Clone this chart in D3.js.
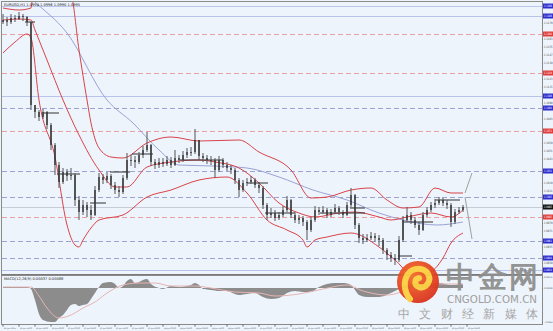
<!DOCTYPE html>
<html>
<head>
<meta charset="utf-8">
<script src="https://cdn.jsdelivr.net/npm/d3@7"></script>
<style>
  body { margin: 0; background: #eef4fb; }
  svg text { font-family: "DejaVu Sans", sans-serif; }
</style>
</head>
<body>
<div id="chart"></div>
<script>
// ---- data ----
const symbolTitle = "EURUSD,H1  1.0994 1.0996 1.0990 1.0995";
const macdTitle = "MACD(12,26,9) 0.00037 0.00088";

const firstOpen = 1.1180;
const closes = [
  1.1182,1.1180,1.1184,1.1183,1.1186,1.1185,1.1180,1.1097,1.1090,1.1085,
  1.1090,1.1077,1.1057,1.1037,1.1020,1.1030,1.1026,1.1027,1.1002,1.0990,
  1.0997,1.0992,1.0987,1.1012,1.1025,1.1022,1.1026,1.1017,1.1012,1.1010,
  1.1024,1.1042,1.1042,1.1040,1.1047,1.1052,1.1057,1.1040,1.1037,1.1040,
  1.1038,1.1042,1.1037,1.1044,1.1042,1.1047,1.1050,1.1050,1.1062,1.1046,
  1.1044,1.1042,1.1042,1.1032,1.1042,1.1037,1.1034,1.1032,1.1022,1.1012,
  1.1019,1.1020,1.1022,1.1017,1.1014,1.0997,1.0987,1.0989,1.0984,1.0987,
  1.0992,1.1002,1.0987,1.0982,1.0984,1.0980,1.0972,1.0982,1.0992,1.0990,
  1.0992,1.0987,1.0990,1.0994,1.0990,1.0987,1.0997,1.1007,1.0977,1.0964,
  1.0962,1.0964,1.0966,1.0964,1.0962,1.0952,1.0947,1.0944,1.0942,1.0962,
  1.0982,1.0987,1.0982,1.0977,1.0972,1.0987,1.0992,1.0997,1.0999,1.1002,
  1.0999,1.0997,1.0980,1.0990,1.0992,1.0995
];
const highs = [
  1.1188,1.1185,1.1188,1.1187,1.1190,1.1188,1.1186,1.1178,1.1096,1.1092,
  1.1093,1.1091,1.1079,1.1059,1.1040,1.1034,1.1033,1.1034,1.1029,1.1006,
  1.1002,1.1000,1.0997,1.1016,1.1029,1.1028,1.1030,1.1028,1.1020,1.1016,
  1.1027,1.1049,1.1047,1.1046,1.1050,1.1056,1.1070,1.1058,1.1043,1.1044,
  1.1044,1.1046,1.1045,1.1052,1.1047,1.1051,1.1054,1.1055,1.1073,1.1062,
  1.1049,1.1047,1.1046,1.1044,1.1046,1.1044,1.1040,1.1037,1.1034,1.1024,
  1.1022,1.1024,1.1026,1.1024,1.1020,1.1016,1.0999,1.0994,1.0992,1.0990,
  1.0996,1.1006,1.1003,1.0990,1.0987,1.0986,1.0982,1.0985,1.0996,1.0995,
  1.0996,1.0994,1.0993,1.0998,1.0996,1.0992,1.1000,1.1014,1.1008,1.0979,
  1.0968,1.0968,1.0970,1.0969,1.0967,1.0964,1.0954,1.0950,1.0948,1.0966,
  1.0986,1.0995,1.0990,1.0985,1.0980,1.0990,1.0995,1.1000,1.1003,1.1005,
  1.1004,1.1002,1.0999,1.0993,1.0995,1.0997
];
const lows = [
  1.1178,1.1176,1.1178,1.1180,1.1182,1.1181,1.1176,1.1092,1.1084,1.1081,
  1.1083,1.1073,1.1052,1.1027,1.1014,1.1018,1.1021,1.1022,1.0996,1.0982,
  1.0987,1.0985,1.0982,1.0986,1.1010,1.1018,1.1019,1.1013,1.1008,1.1005,
  1.1008,1.1022,1.1036,1.1034,1.1038,1.1044,1.1050,1.1036,1.1033,1.1034,
  1.1035,1.1036,1.1034,1.1036,1.1039,1.1040,1.1044,1.1046,1.1048,1.1042,
  1.1040,1.1038,1.1037,1.1024,1.1030,1.1034,1.1031,1.1028,1.1018,1.1005,
  1.1010,1.1016,1.1018,1.1014,1.1009,1.0993,1.0982,1.0984,1.0981,1.0982,
  1.0985,1.0990,1.0984,1.0979,1.0978,1.0976,1.0962,1.0970,1.0980,1.0987,
  1.0988,1.0984,1.0985,1.0988,1.0987,1.0984,1.0986,1.0995,1.0973,1.0959,
  1.0958,1.0960,1.0962,1.0960,1.0956,1.0948,1.0942,1.0940,1.0937,1.0940,
  1.0960,1.0980,1.0978,1.0974,1.0967,1.0971,1.0985,1.0990,1.0994,1.0997,
  1.0996,1.0993,1.0975,1.0978,1.0988,1.0990
];

// bollinger bands and slow average, [bar index, price]
const upperBand = [[0,1.1194],[4,1.1192],[7,1.1194],[8,1.1232],[17,1.1207],[19,1.1152],[21,1.1102],[22,1.1079],[24,1.1054],[27,1.1045],[30,1.1044],[36,1.1059],[42,1.1065],[49,1.1061],[59,1.1062],[64,1.1050],[72,1.1032],[77,1.1004],[81,1.1005],[87,1.1012],[92,1.1014],[96,1.1002],[100,1.0994],[104,1.0995],[108,1.1014],[112,1.1009],[115,1.1009]];
const middleBand = [[0,1.1182],[4,1.1183],[7,1.1182],[8,1.1172],[11,1.1142],[15,1.1102],[19,1.1067],[24,1.1032],[28,1.1015],[31,1.1015],[36,1.1035],[42,1.1040],[49,1.1042],[53,1.1040],[59,1.1034],[64,1.1019],[69,1.0999],[74,1.0989],[78,1.0985],[84,1.0989],[88,1.0990],[94,1.0985],[97,1.0982],[101,1.0985],[107,1.0989],[112,1.0985],[115,1.0992]];
const lowerBand = [[0,1.1149],[3,1.1160],[6,1.1168],[7,1.1164],[9,1.1102],[13,1.1045],[16,1.0977],[18,1.0957],[19,1.0955],[20,1.0962],[22,1.0974],[24,1.0982],[30,1.0987],[36,1.1005],[42,1.1012],[49,1.1022],[56,1.1025],[61,1.1009],[66,1.0982],[71,1.0972],[75,1.0962],[76,1.0955],[78,1.0962],[81,1.0965],[87,1.0969],[94,1.0955],[98,1.0942],[102,1.0929],[106,1.0929],[110,1.0944],[112,1.0959],[115,1.0969]];
const slowAverage = [[0,1.1232],[7.5,1.1202],[16,1.1169],[26,1.1102],[32.5,1.1079],[39,1.1052],[44,1.1037],[52.5,1.1036],[61,1.1034],[69,1.1025],[77.5,1.1012],[86,1.1002],[94,1.0989],[100,1.0982],[108.5,1.0977],[115,1.0980]];

// horizontal levels
const solidLevels = [1.1196, 1.1186, 1.1106, 1.0932];
const redLevels = [1.1168, 1.1129, 1.1071, 1.0985];
const blueLevels = [1.1094, 1.1031, 1.1005, 1.0961, 1.0944];
const bidPrice = 1.0995;

// short range markers [from bar, to bar, price]
const rangeMarks = [[5.5,8,1.1180],[10,14,1.1089],[13.5,19.25,1.1028],[21.75,25.75,1.0999],[26.75,31.75,1.1030],[32.25,37.5,1.1048],[44.25,55,1.1042],[61,66.25,1.1019],[65.5,73,1.0989],[79.25,90.5,1.0989],[86.75,90.5,1.0994],[98.75,102.25,1.0946],[100,107.5,1.0980],[108,114.25,1.1002]];
// projection strokes
const projections = [[[115.5,1.1009],[117.25,1.1029]], [[115.5,1.1005],[117.25,1.0963]]];

// MACD histogram and signal, [bar index, value]
const macdMain = [[0,0.0001],[6,0.0001],[7,-0.0001],[8,-0.0012],[9,-0.0026],[10,-0.0032],[12,-0.0034],[13,-0.0034],[14,-0.0030],[15,-0.0027],[16,-0.0022],[17,-0.0017],[18,-0.0016],[19,-0.0018],[20,-0.0017],[21,-0.0016],[22,-0.0011],[23,-0.0005],[24,0.0001],[25,0.0005],[27,0.0006],[28,0.0004],[29,0.0000],[30,0.0002],[31,0.0007],[32,0.0009],[33,0.0005],[34,0.0006],[35,0.0008],[36,0.0009],[37,0.0004],[39,0.0000],[40,-0.0001],[42,0.0002],[44,0.0001],[46,0.0002],[47,0.0003],[48,0.0005],[49,0.0003],[50,-0.0001],[52,-0.0002],[54,-0.0003],[56,-0.0003],[58,-0.0006],[59,-0.0007],[61,-0.0006],[63,-0.0005],[65,-0.0009],[67,-0.0011],[69,-0.0010],[71,-0.0005],[73,-0.0003],[75,-0.0004],[77,-0.0004],[79,0.0001],[81,0.0004],[83,0.0005],[85,0.0005],[87,0.0003],[88,-0.0002],[89,-0.0007],[91,-0.0009],[94,-0.0009],[97,-0.0005],[99,-0.0001],[101,0.0003],[104,0.0005],[109,0.0005],[112,0.0003],[115,0.0004]];
const macdSignal = [[0,0.0001],[7,0.0001],[9,-0.0008],[11,-0.0020],[14,-0.0030],[17,-0.0027],[20,-0.0020],[23,-0.0014],[26,-0.0005],[30,0.0003],[34,0.0005],[38,0.0005],[42,0.0002],[48,0.0002],[52,0.0000],[58,-0.0004],[64,-0.0005],[68,-0.0008],[74,-0.0006],[80,-0.0001],[86,0.0003],[90,-0.0003],[96,-0.0007],[102,-0.0001],[108,0.0004],[115,0.0004]];

// axis labels
const priceTicks = [1.1195,1.1187,1.1179,1.1171,1.1163,1.1155,1.1147,1.1139,1.1131,1.1123,1.1115,1.1107,1.1099,1.1091,1.1083,1.1075,1.1067,1.1059,1.1051,1.1043,1.1035,1.1027,1.1019,1.1011,1.1003,1.0995,1.0987,1.0979,1.0971,1.0963,1.0955,1.0947,1.0939];
const macdTicks = [0.0011, 0.0000, -0.0034];
const timeLabels = ["22 Jun 2015","22 Jun 12:00","22 Jun 16:00","22 Jun 20:00",
  "23 Jun 00:00","23 Jun 04:00","23 Jun 08:00","23 Jun 12:00","23 Jun 16:00","23 Jun 20:00",
  "24 Jun 00:00","24 Jun 04:00","24 Jun 08:00","24 Jun 12:00","24 Jun 16:00","24 Jun 20:00",
  "25 Jun 00:00","25 Jun 04:00","25 Jun 08:00","25 Jun 12:00","25 Jun 16:00","25 Jun 20:00",
  "26 Jun 00:00","26 Jun 04:00","26 Jun 08:00","26 Jun 12:00","26 Jun 16:00","26 Jun 20:00",
  "29 Jun 00:00","29 Jun 04:00"];

// ---- drawing ----
const width = 553, height = 331;
const main = {left: 2, right: 542, top: 2, bottom: 274};
const sub = {top: 276, bottom: 324};

const svg = d3.select("#chart").append("svg")
    .attr("width", width)
    .attr("height", height);

svg.append("rect").attr("width", width).attr("height", height).attr("fill", "#eef4fb");

const X_SCALE = d3.scaleLinear().domain([0, 134.75]).range([3, main.right]);
const Y_SCALE = d3.scaleLinear().domain([1.0928, 1.1202]).range([main.bottom, 0]);
const M_SCALE = d3.scaleLinear().domain([-0.0036, 0.0013]).range([sub.bottom, sub.top - 1]);

let defs = svg.append("defs");
defs.append("clipPath").attr("id", "mainClip")
  .append("rect").attr("x", main.left).attr("y", main.top)
  .attr("width", main.right - main.left).attr("height", main.bottom - main.top);
defs.append("clipPath").attr("id", "subClip")
  .append("rect").attr("x", main.left).attr("y", sub.top)
  .attr("width", main.right - main.left).attr("height", sub.bottom - sub.top);

let plot = svg.append("g").attr("clip-path", "url(#mainClip)");

// level lines
function levelLines(list, color, dash) {
  plot.append("g").selectAll("line").data(list).enter().append("line")
    .attr("x1", main.left).attr("x2", main.right)
    .attr("y1", d => Math.round(Y_SCALE(d)) + 0.5)
    .attr("y2", d => Math.round(Y_SCALE(d)) + 0.5)
    .attr("stroke", color).attr("stroke-width", 1)
    .attr("stroke-dasharray", dash);
}
levelLines(solidLevels, "#b9c3ec", null);
levelLines(redLevels, "#eaa0a0", "5,3");
levelLines(blueLevels, "#9ea2d0", "5,3");
levelLines([bidPrice], "#c8ccd8", null);

// bands
const bandLine = d3.line().x(d => X_SCALE(d[0])).y(d => Y_SCALE(d[1])).curve(d3.curveMonotoneX);
plot.append("path").datum(slowAverage).attr("d", bandLine)
  .attr("fill", "none").attr("stroke", "#9aa3d6").attr("stroke-width", 1);
[upperBand, middleBand, lowerBand].forEach(b => {
  plot.append("path").datum(b).attr("d", bandLine)
    .attr("fill", "none").attr("stroke", "#d9434a").attr("stroke-width", 1);
});

// range markers
plot.append("g").selectAll("line").data(rangeMarks).enter().append("line")
  .attr("x1", d => X_SCALE(d[0])).attr("x2", d => X_SCALE(d[1]))
  .attr("y1", d => Y_SCALE(d[2])).attr("y2", d => Y_SCALE(d[2]))
  .attr("stroke", "#333").attr("stroke-width", 1);

// candles
let opens = closes.map((c, i) => i === 0 ? firstOpen : closes[i - 1]);
let candles = plot.append("g");
candles.selectAll(".wick").data(closes).enter().append("line")
  .attr("class", "wick")
  .attr("x1", (d, i) => X_SCALE(i)).attr("x2", (d, i) => X_SCALE(i))
  .attr("y1", (d, i) => Y_SCALE(Math.max(highs[i], d, opens[i])))
  .attr("y2", (d, i) => Y_SCALE(Math.min(lows[i], d, opens[i])))
  .attr("stroke", "#555").attr("stroke-width", 1);
candles.selectAll(".body").data(closes).enter().append("rect")
  .attr("class", "body")
  .attr("x", (d, i) => X_SCALE(i) - 0.7)
  .attr("width", 1.4)
  .attr("y", (d, i) => Y_SCALE(Math.max(d, opens[i])))
  .attr("height", (d, i) => Math.max(1, Math.abs(Y_SCALE(d) - Y_SCALE(opens[i]))))
  .attr("fill", "#333");

// projections
plot.append("g").selectAll("line").data(projections).enter().append("line")
  .attr("x1", d => X_SCALE(d[0][0])).attr("y1", d => Y_SCALE(d[0][1]))
  .attr("x2", d => X_SCALE(d[1][0])).attr("y2", d => Y_SCALE(d[1][1]))
  .attr("stroke", "#a0a0a0").attr("stroke-width", 1);

// MACD panel
let subG = svg.append("g").attr("clip-path", "url(#subClip)");
subG.append("path").datum(macdMain)
  .attr("d", d3.area().x(d => X_SCALE(d[0])).y0(M_SCALE(0)).y1(d => M_SCALE(d[1])).curve(d3.curveMonotoneX))
  .attr("fill", "#8c8c8c");
subG.append("path").datum(macdSignal)
  .attr("d", d3.line().x(d => X_SCALE(d[0])).y(d => M_SCALE(d[1])).curve(d3.curveMonotoneX))
  .attr("fill", "none").attr("stroke", "#e6b4b4").attr("stroke-width", 1);

// frames
svg.append("rect").attr("x", main.left - 0.5).attr("y", 1.5)
  .attr("width", main.right - main.left + 1).attr("height", main.bottom - 1)
  .attr("fill", "none").attr("stroke", "#8a8a8a");
svg.append("line").attr("x1", main.left).attr("x2", main.right)
  .attr("y1", sub.top - 1.5).attr("y2", sub.top - 1.5).attr("stroke", "#7a7a7a");
svg.append("rect").attr("x", main.left - 0.5).attr("y", sub.top - 0.5)
  .attr("width", main.right - main.left + 1).attr("height", sub.bottom - sub.top + 1)
  .attr("fill", "none").attr("stroke", "#8a8a8a");

// titles
svg.append("text").attr("x", 4).attr("y", 6).attr("font-size", 3.6).attr("fill", "#222").text(symbolTitle);
svg.append("text").attr("x", 4).attr("y", sub.top + 4).attr("font-size", 3.6).attr("fill", "#222").text(macdTitle);

// right price axis; labels hidden where a level box covers them
const boxed = solidLevels.concat(redLevels, blueLevels, [bidPrice]);
const freeTicks = priceTicks.filter(t => boxed.every(b => Math.abs(Y_SCALE(t) - Y_SCALE(b)) > 4.5));
svg.append("g")
  .attr("transform", "translate(" + main.right + ",0)")
  .call(d3.axisRight(Y_SCALE).tickValues(freeTicks).tickSize(1).tickFormat(d3.format(".4f")))
  .call(g => g.select(".domain").remove())
  .call(g => g.selectAll("text").attr("font-size", 3).attr("fill", "#444").attr("x", 2)
    .attr("textLength", 8.5).attr("lengthAdjust", "spacingAndGlyphs"))
  .call(g => g.selectAll("line").attr("stroke", "#777"));

svg.append("g")
  .attr("transform", "translate(" + main.right + ",0)")
  .call(d3.axisRight(M_SCALE).tickValues(macdTicks).tickSize(1).tickFormat(d3.format(".4f")))
  .call(g => g.select(".domain").remove())
  .call(g => g.selectAll("text").attr("font-size", 2.2).attr("fill", "#444").attr("x", 2)
    .attr("textLength", 8.5).attr("lengthAdjust", "spacingAndGlyphs"))
  .call(g => g.selectAll("line").attr("stroke", "#777"));

// level price boxes
function levelBoxes(list, color) {
  let g = svg.append("g").selectAll("g").data(list).enter().append("g")
    .attr("transform", d => "translate(" + (main.right + 1) + "," + Math.round(Y_SCALE(d)) + ")");
  g.append("rect").attr("x", 0).attr("y", -2.5).attr("width", 10).attr("height", 5).attr("fill", color);
  g.append("text").attr("x", 1).attr("y", 1.2).attr("font-size", 3).attr("fill", "#fff")
    .attr("textLength", 8).attr("lengthAdjust", "spacingAndGlyphs")
    .text(d => d3.format(".4f")(d));
}
levelBoxes(solidLevels, "#2c2cd0");
levelBoxes(blueLevels, "#2c2cd0");
levelBoxes(redLevels, "#e03c3c");
levelBoxes([bidPrice], "#111");

// time axis
svg.append("g").selectAll("g").data(timeLabels).enter().append("g")
  .attr("transform", (d, i) => "translate(" + X_SCALE(i * 4) + "," + (sub.bottom + 0.5) + ")")
  .call(g => g.append("line").attr("y1", 0).attr("y2", 2).attr("stroke", "#666"))
  .call(g => g.append("text").attr("x", 1).attr("y", 4.5).attr("font-size", 1.9).attr("fill", "#444")
    .attr("textLength", 12).attr("lengthAdjust", "spacingAndGlyphs").text(d => d));

// watermark
let wm = svg.append("g").attr("opacity", 0.95);
let grad = defs.append("radialGradient").attr("id", "logoGrad").attr("cx", "40%").attr("cy", "35%").attr("r", "70%");
grad.append("stop").attr("offset", "0%").attr("stop-color", "#f6702e");
grad.append("stop").attr("offset", "100%").attr("stop-color", "#d9301e");
wm.append("circle").attr("cx", 418).attr("cy", 282).attr("r", 21).attr("fill", "url(#logoGrad)");
wm.append("path")
  .attr("d", "M410,299 C404,292 403,281 408,274 C413,267 424,267 428,274 C432,281 426,289 419,287 C414,285 414,279 419,278")
  .attr("fill", "none").attr("stroke", "#fcd040").attr("stroke-width", 6).attr("stroke-linecap", "round");
wm.append("text").attr("x", 446).attr("y", 287).attr("font-size", 29).attr("font-weight", "bold")
  .attr("font-family", "Noto Sans CJK SC").attr("fill", "#8f8f8f").attr("textLength", 92).text("中金网");
wm.append("text").attr("x", 447).attr("y", 303).attr("font-size", 10.5)
  .attr("fill", "#9a9a9a").attr("textLength", 90).attr("lengthAdjust", "spacingAndGlyphs").text("CNGOLD.COM.CN");
wm.append("text").attr("x", 398).attr("y", 318).attr("font-size", 12)
  .attr("font-family", "Noto Sans CJK SC").attr("fill", "#a3a3a3").attr("textLength", 140).text("中文财经新媒体");
</script>
</body>
</html>
